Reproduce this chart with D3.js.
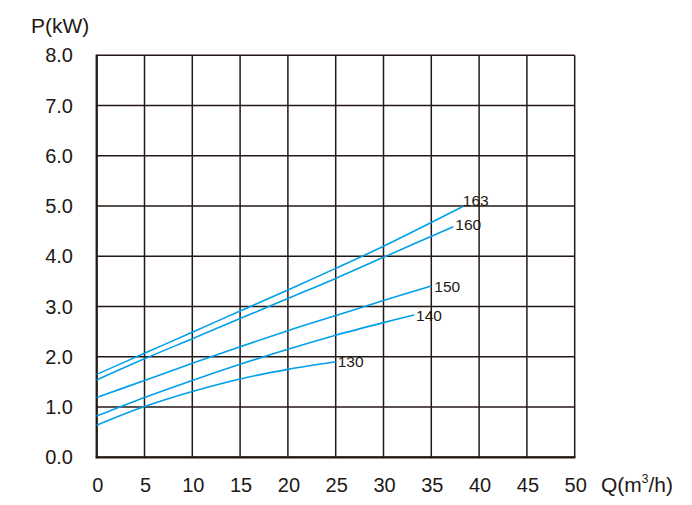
<!DOCTYPE html>
<html>
<head>
<meta charset="utf-8">
<script src="https://cdn.jsdelivr.net/npm/d3@7"></script>
<style>
  html, body { margin: 0; padding: 0; background: #ffffff; }
  svg { display: block; font-family: "Liberation Sans", Arial, sans-serif; }
</style>
</head>
<body>
<div id="chart"></div>
<script>
// Pump power curves P(kW) vs flow Q(m3/h) for different impeller diameters

const xTicks = [0, 5, 10, 15, 20, 25, 30, 35, 40, 45, 50];
const yTicks = [0, 1, 2, 3, 4, 5, 6, 7, 8];
const yTickLabels = ["0.0", "1.0", "2.0", "3.0", "4.0", "5.0", "6.0", "7.0", "8.0"];

const curveNames = ["130", "140", "150", "160", "163"];

const q130 = [0, 5, 10, 15, 20, 25];
const p130 = [0.64, 1.01, 1.31, 1.56, 1.75, 1.90];

const q140 = [0, 5, 10, 15, 20, 25, 30, 33.2];
const p140 = [0.82, 1.19, 1.53, 1.85, 2.15, 2.43, 2.68, 2.83];

const q150 = [0, 5, 10, 15, 20, 25, 30, 35];
const p150 = [1.19, 1.53, 1.87, 2.20, 2.52, 2.82, 3.12, 3.41];

const q160 = [0, 5, 10, 15, 20, 25, 30, 37.3];
const p160 = [1.54, 1.96, 2.36, 2.76, 3.16, 3.56, 3.98, 4.59];

const q163 = [0, 5, 10, 15, 20, 25, 30, 38.3];
const p163 = [1.65, 2.07, 2.49, 2.91, 3.33, 3.76, 4.20, 4.99];

const curveQ = [q130, q140, q150, q160, q163];
const curveP = [p130, p140, p150, p160, p163];

const width = 692, height = 505;
const ink = "#231815";
const blue = "#00a0e9";

const svg = d3.select("#chart").append("svg")
    .attr("width", width)
    .attr("height", height);

const x = d3.scaleLinear().domain([0, 50]).range([96.7, 574.7]);
const y = d3.scaleLinear().domain([0, 8]).range([457.3, 55.3]);

// grid
const grid = svg.append("g").attr("class", "grid");
grid.selectAll("line.v")
    .data(xTicks)
    .enter().append("line")
    .attr("class", "v")
    .attr("x1", d => x(d)).attr("x2", d => x(d))
    .attr("y1", y(0)).attr("y2", y(8))
    .attr("stroke", ink)
    .attr("stroke-width", 1.5);

grid.selectAll("line.h")
    .data(yTicks)
    .enter().append("line")
    .attr("class", "h")
    .attr("y1", d => y(d)).attr("y2", d => y(d))
    .attr("x1", x(0)).attr("x2", x(50))
    .attr("stroke", ink)
    .attr("stroke-width", 1.5);

// heavier left / bottom axes
svg.append("line")
    .attr("x1", x(0)).attr("x2", x(0))
    .attr("y1", y(8) - 0.75).attr("y2", y(0) + 1)
    .attr("stroke", ink).attr("stroke-width", 2.2);
svg.append("line")
    .attr("x1", x(0) - 1).attr("x2", x(50) + 0.75)
    .attr("y1", y(0)).attr("y2", y(0))
    .attr("stroke", ink).attr("stroke-width", 2.2);

// tick labels
svg.append("g").selectAll("text")
    .data(xTicks)
    .enter().append("text")
    .attr("x", d => x(d) + 1)
    .attr("y", 492)
    .attr("text-anchor", "middle")
    .attr("font-size", 20)
    .attr("fill", ink)
    .text(d => d);

svg.append("g").selectAll("text")
    .data(yTicks)
    .enter().append("text")
    .attr("x", 73)
    .attr("y", d => y(d) + 7)
    .attr("text-anchor", "end")
    .attr("font-size", 20)
    .attr("fill", ink)
    .text((d, i) => yTickLabels[i]);

// axis titles
svg.append("text")
    .attr("x", 31)
    .attr("y", 33)
    .attr("font-size", 21)
    .attr("fill", ink)
    .text("P(kW)");

const qTitle = svg.append("text")
    .attr("x", 601)
    .attr("y", 492)
    .attr("font-size", 21)
    .attr("fill", ink);
qTitle.append("tspan").text("Q(m");
qTitle.append("tspan").attr("font-size", 12).attr("dy", -9).text("3");
qTitle.append("tspan").attr("dy", 9).text("/h)");

// curves
const line = d3.line()
    .x(d => x(d[0]))
    .y(d => y(d[1]))
    .curve(d3.curveCatmullRom.alpha(0.5));

const labelShift = { "130": [2, 0], "140": [2, 0], "150": [3, 1], "160": [2, -2], "163": [0, -6] };

curveNames.forEach((name, i) => {
    const pts = curveQ[i].map((q, k) => [q, curveP[i][k]]);
    svg.append("path")
        .datum(pts)
        .attr("d", line)
        .attr("fill", "none")
        .attr("stroke", blue)
        .attr("stroke-width", 1.6);

    const last = pts[pts.length - 1];
    const s = labelShift[name];
    svg.append("text")
        .attr("x", x(last[0]) + s[0])
        .attr("y", y(last[1]) + s[1] + 5.5)
        .attr("font-size", 15.5)
        .attr("fill", ink)
        .text(name);
});
</script>
</body>
</html>
